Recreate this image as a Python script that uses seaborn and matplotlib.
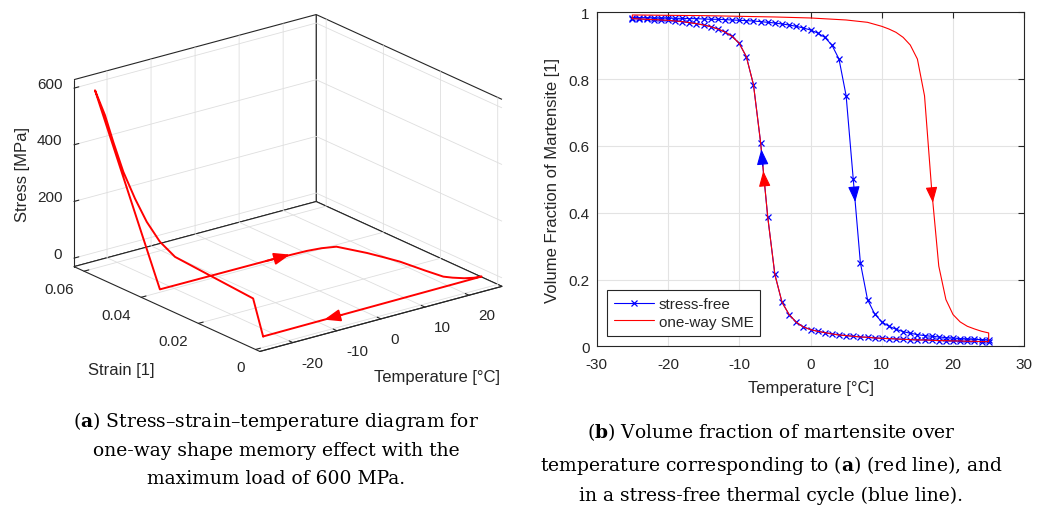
import numpy as np
import pandas as pd
import matplotlib
matplotlib.use("Agg")
import matplotlib.pyplot as plt
import seaborn as sns
from matplotlib.patches import FancyArrowPatch
from mpl_toolkits.mplot3d import proj3d

# ---------- (b) volume fraction of martensite ----------
temps = list(range(-25, 26))
# stress-free cycle, heating branch (right curve), one value per degC
free_heat = [0.984, 0.984, 0.984, 0.983, 0.983, 0.983, 0.982, 0.982, 0.981, 0.981,
             0.980, 0.979, 0.979, 0.978, 0.977, 0.976, 0.975, 0.974, 0.972, 0.970,
             0.968, 0.965, 0.962, 0.958, 0.953, 0.947, 0.938, 0.925, 0.902, 0.860,
             0.750, 0.500, 0.250, 0.140, 0.097, 0.073, 0.060, 0.051, 0.044, 0.039,
             0.035, 0.032, 0.030, 0.028, 0.026, 0.025, 0.023, 0.022, 0.021, 0.020, 0.019]
# stress-free cycle, cooling branch (left curve)
free_cool = [0.981, 0.980, 0.979, 0.978, 0.977, 0.976, 0.974, 0.972, 0.969, 0.966,
             0.962, 0.957, 0.950, 0.941, 0.928, 0.907, 0.867, 0.783, 0.610, 0.387,
             0.215, 0.132, 0.095, 0.072, 0.058, 0.050, 0.045, 0.041, 0.037, 0.034,
             0.032, 0.030, 0.028, 0.027, 0.025, 0.024, 0.023, 0.022, 0.021, 0.020,
             0.019, 0.019, 0.018, 0.017, 0.017, 0.016, 0.016, 0.015, 0.015, 0.014, 0.014]
# one-way SME, heating after unloading
sme_heat_T = [-25, -20, -15, -10, -5, 0, 5, 8, 10, 11, 12, 13, 14, 15, 16, 17, 18,
              19, 20, 21, 22, 23, 24, 25]
sme_heat = [0.992, 0.991, 0.990, 0.988, 0.986, 0.983, 0.977, 0.970, 0.958, 0.950,
            0.940, 0.925, 0.902, 0.860, 0.750, 0.470, 0.240, 0.140, 0.095, 0.073,
            0.060, 0.052, 0.045, 0.040]
# one-way SME cooling branch lies on the stress-free cooling curve
sme_cool = free_cool

# direction arrows in (b): tail -> tip
arr_b_color = ["blue", "red", "blue", "red"]
arr_b_T0 = [-6.69, -6.43, 6.10, 17.00]
arr_b_f0 = [0.540, 0.480, 0.475, 0.470]
arr_b_T1 = [-6.90, -6.63, 6.27, 17.17]
arr_b_f1 = [0.590, 0.525, 0.432, 0.430]

# ---------- (a) stress-strain-temperature path ----------
# isothermal loading at -25 degC, then unloading
load_strain = [0.0012, 0.0047, 0.0320, 0.0373, 0.0419, 0.0460, 0.0501, 0.0536, 0.0565, 0.0600]
load_stress = [0, 118, 139, 168, 217, 280, 356, 445, 526, 598]
# stress-free heating (strain recovery)
heat_T = [-25, 0, 8, 11, 13.6, 16, 17, 18, 18.8, 19.5, 20.5, 22, 23.5, 25]
heat_strain = [0.0373, 0.0372, 0.0368, 0.0362, 0.0350, 0.0280, 0.0240, 0.0195,
               0.0120, 0.0067, 0.0050, 0.0032, 0.0022, 0.0018]
# stress-free cooling
cool_T = [25, -25]
cool_strain = [0.0018, 0.0012]

# direction arrows in (a): tail -> tip (T, strain, stress)
arr_a_T0 = [-1.0, -7.0]
arr_a_T1 = [4.5, -11.0]
arr_a_s = [0.0372, 0.0014]

ink = "#262626"
sns.set_style("white")
plt.rcParams["font.family"] = ["Liberation Sans", "DejaVu Sans"]
plt.rcParams["axes.unicode_minus"] = False
plt.rcParams["mathtext.fontset"] = "custom"
plt.rcParams["mathtext.rm"] = "DejaVu Serif"
plt.rcParams["mathtext.bf"] = "DejaVu Serif:bold"


class Arrow3D(FancyArrowPatch):
    def __init__(self, xs, ys, zs, **kw):
        super().__init__((0, 0), (0, 0), **kw)
        self._verts3d = xs, ys, zs

    def do_3d_projection(self, renderer=None):
        xs, ys, zs = proj3d.proj_transform(*self._verts3d, self.axes.M)
        self.set_positions((xs[0], ys[0]), (xs[1], ys[1]))
        return np.min(zs)


fig = plt.figure(figsize=(10.45, 5.10), dpi=100)

# ----- left: 3D -----
ax1 = fig.add_axes([68 / 1045, 106 / 510, 440 / 1045, 440 / 510],
                   projection="3d", proj_type="ortho")
ax1.view_init(elev=20.5, azim=-127.5)
path = pd.DataFrame({
    "T": [-25] * len(load_strain) + heat_T + cool_T[1:],
    "strain": load_strain + heat_strain + cool_strain[1:],
    "stress": load_stress + [0] * len(heat_T) + [0],
})
ax1.plot(path["T"], path["strain"], path["stress"], color="red", lw=1.4)
for t0, t1, s in zip(arr_a_T0, arr_a_T1, arr_a_s):
    ax1.add_artist(Arrow3D([t0, t1], [s, s], [0, 0], color="red", lw=1.4,
                           arrowstyle="-|>,head_length=0.8,head_width=0.3",
                           mutation_scale=12, shrinkA=0, shrinkB=0))
ax1.set_xlim(-27.5, 27.5)
ax1.set_ylim(-0.0015, 0.0635)
ax1.set_zlim(-30, 630)
ax1.set_xticks([-20, -10, 0, 10, 20])
ax1.set_yticks([0, 0.02, 0.04, 0.06])
ax1.set_yticklabels(["0", "0.02", "0.04", "0.06"])
ax1.set_zticks([0, 200, 400, 600])
ax1.tick_params(labelsize=11, colors=ink)
ax1.tick_params(axis="x", pad=0)
ax1.tick_params(axis="y", pad=-1)
ax1.tick_params(axis="z", pad=-3.5)
for axis in (ax1.xaxis, ax1.yaxis, ax1.zaxis):
    axis.set_pane_color((1, 1, 1, 1))
    axis.pane.set_edgecolor(ink)
    axis.pane.set_linewidth(0.8)
    axis.line.set_color(ink)
    axis.line.set_linewidth(0.8)
    axis._axinfo["grid"].update(color=(0.87, 0.87, 0.87, 1), linewidth=0.6)
    axis._axinfo["tick"].update(inward_factor=0.0, outward_factor=0.25)
    axis._axinfo["tick"]["color"] = ink

aspect = (1, 1, 0.654)
ax1.set_box_aspect(aspect)


def box_px():
    fig.canvas.draw()
    g = np.meshgrid(ax1.get_xlim3d(), ax1.get_ylim3d(), ax1.get_zlim3d())
    px, py, _ = proj3d.proj_transform(*(a.ravel() for a in g), ax1.M)
    return ax1.transData.transform(np.column_stack([px, py]))


# fit the projected box onto the reference frame (x 74..502, y 15..353 px)
pts = box_px()
ax1.set_box_aspect(aspect, zoom=428 / np.ptp(pts[:, 0]))
pts = box_px()
dx = 288 - (pts[:, 0].min() + pts[:, 0].max()) / 2
dy = 326 - (pts[:, 1].min() + pts[:, 1].max()) / 2
p = ax1.get_position(original=True)
ax1.set_position([p.x0 + dx / 1045, p.y0 + dy / 510, p.width, p.height])
fig.canvas.draw()
plt.setp(ax1.xaxis.get_majorticklabels(), ha="left")
plt.setp(ax1.yaxis.get_majorticklabels(), ha="right")
plt.setp(ax1.zaxis.get_majorticklabels(), ha="right", va="baseline")

fig.text(23 / 1045, 1 - 174.5 / 510, "Stress [MPa]", rotation=90, ha="center",
         va="center", fontsize=12, color=ink)
fig.text(121.7 / 1045, 1 - 370.7 / 510, "Strain [1]", ha="center", va="center",
         fontsize=12, color=ink)
fig.text(436.7 / 1045, 1 - 377.7 / 510, "Temperature [°C]", ha="center", va="center",
         fontsize=12, color=ink)

# ----- right: 2D -----
ax2 = fig.add_axes([596.7 / 1045, 1 - 347.3 / 510, 427.6 / 1045, 334 / 510])
free = pd.DataFrame({"T": temps + temps[::-1], "xi": free_heat + free_cool[::-1]})
sme = pd.DataFrame({"T": [-25] + sme_heat_T + temps[::-1],
                    "xi": [sme_cool[0]] + sme_heat + sme_cool[::-1]})
sns.lineplot(data=free, x="T", y="xi", sort=False, estimator=None, color="blue",
             lw=0.8, marker="x", ms=5, mec="blue", mew=0.9, label="stress-free", ax=ax2)
sns.lineplot(data=sme, x="T", y="xi", sort=False, estimator=None, color="red",
             lw=0.8, label="one-way SME", ax=ax2)
for c, t0, f0, t1, f1 in zip(arr_b_color, arr_b_T0, arr_b_f0, arr_b_T1, arr_b_f1):
    ax2.annotate("", xy=(t1, f1), xytext=(t0, f0),
                 arrowprops=dict(arrowstyle="-|>,head_length=0.8,head_width=0.3",
                                 color=c, lw=0.8, mutation_scale=12,
                                 shrinkA=0, shrinkB=0))
ax2.set_xlim(-30, 30)
ax2.set_ylim(0, 1)
ax2.set_xticks(range(-30, 31, 10))
ax2.set_yticks([0, 0.2, 0.4, 0.6, 0.8, 1])
ax2.set_yticklabels(["0", "0.2", "0.4", "0.6", "0.8", "1"])
ax2.grid(True, color="#e3e3e3", linewidth=0.8)
ax2.set_axisbelow(True)
for sp in ax2.spines.values():
    sp.set_visible(True)
    sp.set_color(ink)
    sp.set_linewidth(0.8)
ax2.tick_params(direction="in", top=True, right=True, length=4, width=0.8,
                labelsize=11, colors=ink, pad=5)
ax2.tick_params(axis="x", pad=8)
ax2.set_xlabel("Temperature [°C]", fontsize=12, color=ink, labelpad=6.5)
ax2.set_ylabel("Volume Fraction of Martensite [1]", fontsize=12, color=ink, labelpad=6)
leg = ax2.legend(loc="lower left", fontsize=11, frameon=True, fancybox=False,
                 edgecolor=ink, framealpha=1, handlelength=2.6, borderaxespad=0.7,
                 borderpad=0.45, labelspacing=0.25, handletextpad=0.3)
leg.get_frame().set_linewidth(0.8)

# ----- captions -----
cap = dict(ha="center", va="center", fontsize=13.5, family="DejaVu Serif",
           linespacing=1.68, color="black")
fig.text(276 / 1045, 1 - 449 / 510,
         "($\\mathbf{a}$) Stress\u2013strain\u2013temperature diagram for\n"
         "one-way shape memory effect with the\nmaximum load of 600 MPa.", **cap)
fig.text(771 / 1045, 1 - 463 / 510,
         "($\\mathbf{b}$) Volume fraction of martensite over\n"
         "temperature corresponding to ($\\mathbf{a}$) (red line), and\n"
         "in a stress-free thermal cycle (blue line).", **cap)

fig.savefig("out.png", dpi=100)
